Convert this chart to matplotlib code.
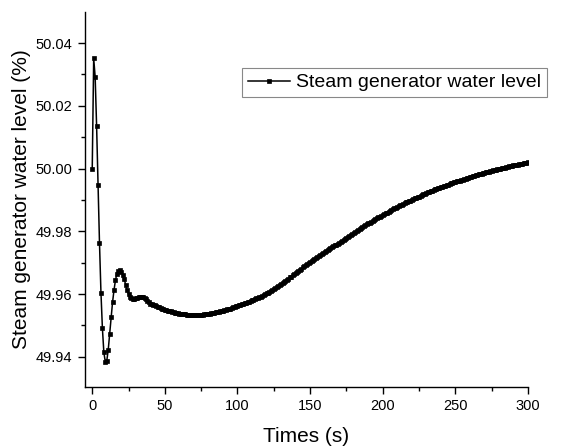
import matplotlib
matplotlib.use("Agg")
import matplotlib.pyplot as plt
from matplotlib.ticker import MultipleLocator, FormatStrFormatter

plt.rcParams['font.family'] = ['Liberation Sans', 'DejaVu Sans']

# time (s): 1 s steps
times = list(range(0, 301))

level_0_39 = [
    50.0000, 50.0351, 50.0293, 50.0137, 49.9948, 49.9762, 49.9605, 49.9491,
    49.9414, 49.9384, 49.9387, 49.9422, 49.9473, 49.9527, 49.9575, 49.9613,
    49.9645, 49.9665, 49.9674, 49.9676, 49.9672, 49.9662, 49.9647, 49.9630,
    49.9614, 49.9600, 49.9591, 49.9586, 49.9584, 49.9584, 49.9586, 49.9588,
    49.9590, 49.9591, 49.9591, 49.9590, 49.9587, 49.9583, 49.9578, 49.9574,
]
level_40_99 = [
    49.9570, 49.9568, 49.9566, 49.9564, 49.9562, 49.9560, 49.9558, 49.9556,
    49.9554, 49.9552, 49.9550, 49.9548, 49.9547, 49.9546, 49.9545, 49.9543,
    49.9542, 49.9541, 49.9540, 49.9539, 49.9538, 49.9537, 49.9536, 49.9535,
    49.9535, 49.9534, 49.9534, 49.9533, 49.9533, 49.9533, 49.9533, 49.9533,
    49.9533, 49.9533, 49.9533, 49.9534, 49.9534, 49.9535, 49.9535, 49.9536,
    49.9537, 49.9538, 49.9539, 49.9540, 49.9541, 49.9542, 49.9543, 49.9544,
    49.9545, 49.9546, 49.9547, 49.9548, 49.9550, 49.9551, 49.9553, 49.9554,
    49.9556, 49.9558, 49.9559, 49.9561,
]
level_100_199 = [
    49.9563, 49.9565, 49.9566, 49.9568, 49.9569, 49.9571, 49.9573, 49.9575,
    49.9576, 49.9578, 49.9580, 49.9582, 49.9584, 49.9586, 49.9588, 49.9590,
    49.9592, 49.9595, 49.9597, 49.9600, 49.9602, 49.9605, 49.9608, 49.9610,
    49.9613, 49.9616, 49.9619, 49.9622, 49.9626, 49.9629, 49.9632, 49.9635,
    49.9639, 49.9642, 49.9646, 49.9649, 49.9653, 49.9656, 49.9660, 49.9663,
    49.9667, 49.9671, 49.9674, 49.9678, 49.9681, 49.9685, 49.9688, 49.9692,
    49.9695, 49.9699, 49.9702, 49.9705, 49.9708, 49.9712, 49.9715, 49.9718,
    49.9721, 49.9724, 49.9728, 49.9731, 49.9734, 49.9737, 49.9740, 49.9743,
    49.9746, 49.9749, 49.9752, 49.9755, 49.9758, 49.9761, 49.9764, 49.9767,
    49.9770, 49.9774, 49.9777, 49.9780, 49.9783, 49.9786, 49.9789, 49.9792,
    49.9795, 49.9798, 49.9801, 49.9804, 49.9807, 49.9810, 49.9813, 49.9816,
    49.9819, 49.9822, 49.9825, 49.9828, 49.9831, 49.9833, 49.9836, 49.9839,
    49.9842, 49.9845, 49.9847, 49.9850,
]
level_200_300 = [
    49.9853, 49.9855, 49.9858, 49.9860, 49.9863, 49.9865, 49.9868, 49.9870,
    49.9873, 49.9875, 49.9878, 49.9880, 49.9883, 49.9885, 49.9887, 49.9889,
    49.9892, 49.9894, 49.9896, 49.9898, 49.9901, 49.9903, 49.9905, 49.9907,
    49.9909, 49.9911, 49.9914, 49.9916, 49.9918, 49.9920, 49.9922, 49.9924,
    49.9926, 49.9928, 49.9930, 49.9932, 49.9934, 49.9935, 49.9937, 49.9939,
    49.9941, 49.9942, 49.9944, 49.9946, 49.9948, 49.9949, 49.9951, 49.9953,
    49.9955, 49.9956, 49.9958, 49.9959, 49.9961, 49.9962, 49.9964, 49.9965,
    49.9967, 49.9968, 49.9970, 49.9971, 49.9973, 49.9974, 49.9976, 49.9977,
    49.9979, 49.9980, 49.9982, 49.9983, 49.9984, 49.9985, 49.9987, 49.9988,
    49.9989, 49.9990, 49.9992, 49.9993, 49.9994, 49.9995, 49.9997, 49.9998,
    49.9999, 50.0000, 50.0001, 50.0002, 50.0003, 50.0004, 50.0006, 50.0007,
    50.0008, 50.0009, 50.0010, 50.0011, 50.0012, 50.0013, 50.0014, 50.0015,
    50.0016, 50.0017, 50.0018, 50.0019, 50.0020,
]
level = level_0_39 + level_40_99 + level_100_199 + level_200_300

x_ticks = [0, 50, 100, 150, 200, 250, 300]
y_ticks = [49.94, 49.96, 49.98, 50.00, 50.02, 50.04]
series_label = "Steam generator water level"

fig = plt.figure(figsize=(5.62, 4.48), dpi=100)
ax = fig.add_axes([0.1512, 0.1362, 0.7883, 0.837])

ax.plot(times, level, color='black', lw=1.1, marker='s', markersize=3.2,
        markeredgewidth=0.5, label=series_label)

ax.set_xlim(-5, 300)
ax.set_ylim(49.9304, 50.0499)
ax.set_xticks(x_ticks)
ax.set_yticks(y_ticks)
ax.yaxis.set_major_formatter(FormatStrFormatter('%.2f'))
ax.xaxis.set_minor_locator(MultipleLocator(25))
ax.yaxis.set_minor_locator(MultipleLocator(0.01))

for s in ['top', 'right']:
    ax.spines[s].set_visible(False)
for s in ['left', 'bottom']:
    ax.spines[s].set_linewidth(1.0)

ax.tick_params(which='major', direction='out', length=5, width=1, labelsize=10.5, pad=4)
ax.tick_params(which='minor', direction='out', length=3, width=1)

ax.set_xlabel("Times (s)", fontsize=15, labelpad=10)
ax.set_ylabel("Steam generator water level (%)", fontsize=15, labelpad=3)

leg = ax.legend(loc='upper right', bbox_to_anchor=(547/562, 1 - 68/448),
                bbox_transform=fig.transFigure, borderaxespad=0,
                fontsize=14, fancybox=False, framealpha=1, edgecolor='#888888',
                handlelength=2.2, handletextpad=0.3, borderpad=0.3,
                markerscale=1.0)
leg.get_frame().set_linewidth(0.8)

fig.savefig("out.png", dpi=100)
